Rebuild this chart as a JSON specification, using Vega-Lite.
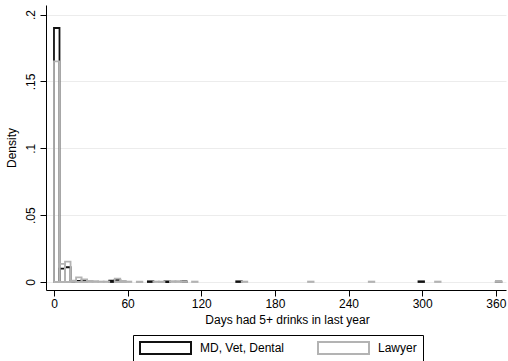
{
  "$schema": "https://vega.github.io/schema/vega-lite/v6.json",
  "width": 460,
  "height": 285,
  "autosize": {"type": "none"},
  "padding": {"left": 46, "top": 5, "right": 2, "bottom": 71},
  "background": "white",
  "config": {
    "font": "Liberation Sans",
    "view": {"stroke": null},
    "axis": {
      "domainColor": "black",
      "domainWidth": 1,
      "tickColor": "black",
      "tickSize": 6,
      "tickWidth": 1,
      "labelFont": "Liberation Sans",
      "labelFontSize": 12,
      "labelColor": "black",
      "titleFont": "Liberation Sans",
      "titleFontSize": 12,
      "titleFontWeight": "normal",
      "titleColor": "black"
    }
  },
  "data": {
    "values": [
      {"group": "MD, Vet, Dental", "x0": 0, "x1": 4.5, "d": 0.190},
      {"group": "MD, Vet, Dental", "x0": 4.5, "x1": 9, "d": 0.010},
      {"group": "MD, Vet, Dental", "x0": 9, "x1": 13.5, "d": 0.011},
      {"group": "MD, Vet, Dental", "x0": 13.5, "x1": 18, "d": 0.0005},
      {"group": "MD, Vet, Dental", "x0": 18, "x1": 22.5, "d": 0.0008},
      {"group": "MD, Vet, Dental", "x0": 22.5, "x1": 27, "d": 0.0012},
      {"group": "MD, Vet, Dental", "x0": 45, "x1": 49.5, "d": 0.0010},
      {"group": "MD, Vet, Dental", "x0": 49.5, "x1": 54, "d": 0.0015},
      {"group": "MD, Vet, Dental", "x0": 76.5, "x1": 81, "d": 0.0005},
      {"group": "MD, Vet, Dental", "x0": 90, "x1": 94.5, "d": 0.0005},
      {"group": "MD, Vet, Dental", "x0": 103.5, "x1": 108, "d": 0.0005},
      {"group": "MD, Vet, Dental", "x0": 148.5, "x1": 153, "d": 0.0005},
      {"group": "MD, Vet, Dental", "x0": 297, "x1": 301.5, "d": 0.0005},
      {"group": "MD, Vet, Dental", "x0": 360, "x1": 364.5, "d": 0.0003},
      {"group": "Lawyer", "x0": 0, "x1": 4.5, "d": 0.165},
      {"group": "Lawyer", "x0": 4.5, "x1": 9, "d": 0.0136},
      {"group": "Lawyer", "x0": 9, "x1": 13.5, "d": 0.0153},
      {"group": "Lawyer", "x0": 13.5, "x1": 18, "d": 0.0010},
      {"group": "Lawyer", "x0": 18, "x1": 22.5, "d": 0.0035},
      {"group": "Lawyer", "x0": 22.5, "x1": 27, "d": 0.0020},
      {"group": "Lawyer", "x0": 27, "x1": 31.5, "d": 0.0008},
      {"group": "Lawyer", "x0": 31.5, "x1": 36, "d": 0.0006},
      {"group": "Lawyer", "x0": 36, "x1": 40.5, "d": 0.0003},
      {"group": "Lawyer", "x0": 40.5, "x1": 45, "d": 0.0003},
      {"group": "Lawyer", "x0": 49.5, "x1": 54, "d": 0.0025},
      {"group": "Lawyer", "x0": 54, "x1": 58.5, "d": 0.0008},
      {"group": "Lawyer", "x0": 58.5, "x1": 63, "d": 0.0003},
      {"group": "Lawyer", "x0": 67.5, "x1": 72, "d": 0.0003},
      {"group": "Lawyer", "x0": 81, "x1": 85.5, "d": 0.0003},
      {"group": "Lawyer", "x0": 85.5, "x1": 90, "d": 0.0003},
      {"group": "Lawyer", "x0": 94.5, "x1": 99, "d": 0.0006},
      {"group": "Lawyer", "x0": 99, "x1": 103.5, "d": 0.0006},
      {"group": "Lawyer", "x0": 103.5, "x1": 108, "d": 0.0003},
      {"group": "Lawyer", "x0": 112.5, "x1": 117, "d": 0.0003},
      {"group": "Lawyer", "x0": 153, "x1": 157.5, "d": 0.0003},
      {"group": "Lawyer", "x0": 207, "x1": 211.5, "d": 0.0003},
      {"group": "Lawyer", "x0": 256.5, "x1": 261, "d": 0.0003},
      {"group": "Lawyer", "x0": 310.5, "x1": 315, "d": 0.0003},
      {"group": "Lawyer", "x0": 360, "x1": 364.5, "d": 0.0003}
    ]
  },
  "mark": {"type": "bar", "fill": "transparent", "strokeWidth": 1.8, "clip": true},
  "encoding": {
    "x": {
      "field": "x0", "type": "quantitative",
      "scale": {"domain": [-6.5, 368.3], "nice": false, "zero": false},
      "axis": {
        "values": [0, 60, 120, 180, 240, 300, 360],
        "title": "Days had 5+ drinks in last year",
        "labelPadding": 2,
        "labelFlush": false,
        "grid": false,
        "titleX": 241,
        "titleY": 33,
        "titleBaseline": "alphabetic",
        "titleAnchor": null
      }
    },
    "x2": {"field": "x1"},
    "y": {
      "field": "d", "type": "quantitative",
      "scale": {"domain": [-0.006, 0.2072], "nice": false, "zero": false},
      "axis": {
        "values": [0, 0.05, 0.1, 0.15, 0.2],
        "title": "Density",
        "labelExpr": "datum.value == 0 ? '0' : replace(format(datum.value, '.2~f'), '0.', '.')",
        "labelAngle": -90,
        "labelAlign": "center",
        "labelBaseline": "bottom",
        "labelPadding": 3,
        "titlePadding": 6,
        "grid": true,
        "gridColor": "#ececec",
        "gridWidth": 1
      }
    },
    "y2": {"datum": 0},
    "stroke": {
      "field": "group", "type": "nominal",
      "scale": {"domain": ["MD, Vet, Dental", "Lawyer"], "range": ["#111111", "#b3b3b3"]},
      "legend": {
        "title": null,
        "orient": "none",
        "direction": "horizontal",
        "columns": 2,
        "legendX": 87,
        "legendY": 330,
        "padding": 6,
        "strokeColor": "black",
        "fillColor": "white",
        "symbolType": "M-1,-1H7.5V1H-1Z",
        "symbolSize": 144,
        "symbolStrokeWidth": 2,
        "symbolFillColor": "white",
        "symbolOpacity": 1,
        "labelFont": "Liberation Sans",
        "labelFontSize": 12,
        "labelColor": "black",
        "labelOffset": 47,
        "columnPadding": 29
      }
    }
  }
}
